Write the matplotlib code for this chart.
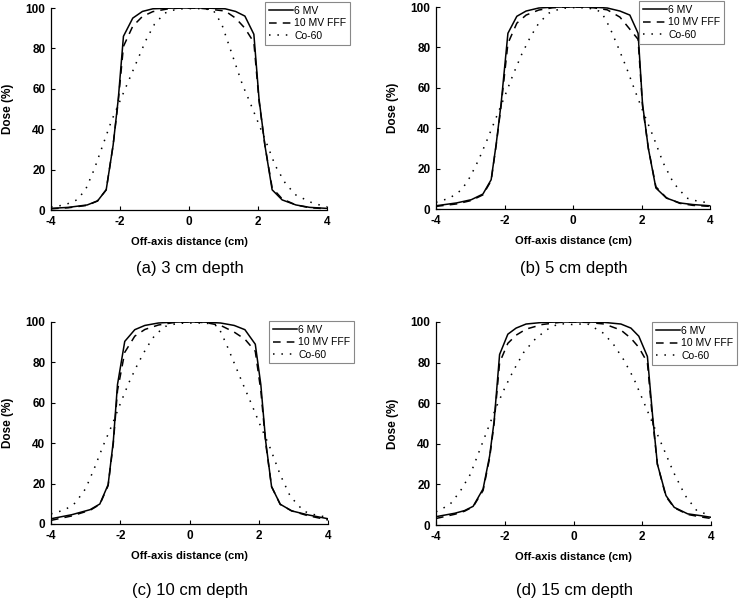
import numpy as np
import matplotlib
matplotlib.use('Agg')
import matplotlib.pyplot as plt

plt.rcParams['font.family'] = ['Liberation Sans', 'DejaVu Sans']
plt.rcParams['axes.unicode_minus'] = False

# (a) 3 cm depth
xa_ph = [-4, -3.5, -2.95, -2.65, -2.4, -2.2, -2.05, -1.9, -1.63, -1.35, -1.05, -0.6, -0.3, 0,
         0.3, 0.6, 1.05, 1.35, 1.62, 1.88, 2.03, 2.2, 2.41, 2.7, 3.1, 3.5, 4]
mv6_a = [0.8, 1.3, 2.5, 4.5, 10, 32, 55, 86, 95, 98.3, 99.6, 99.9, 100, 100,
         100, 99.9, 99.6, 98.3, 96, 87, 55, 32, 10, 5, 2.5, 1.3, 0.8]
fff_a = [0.6, 1.1, 2.3, 4.5, 10, 32, 54, 81, 91, 95.8, 98.2, 99.6, 99.9, 100,
         99.9, 99.4, 98.5, 95, 90, 83, 54, 32, 11, 5.5, 2.5, 1.1, 0.6]
xa_co = [-4, -3.6, -3.25, -3.0, -2.75, -2.5, -2.25, -2.0, -1.75, -1.5, -1.25, -1.0, -0.7, -0.35, 0,
         0.35, 0.7, 0.95, 1.15, 1.35, 1.55, 1.75, 2.0, 2.25, 2.5, 2.8, 3.1, 3.6, 4]
co_a = [1.5, 2.5, 5, 10, 20, 32, 44, 54, 64, 74, 84, 92, 97.5, 99.5, 99.7,
        99.7, 99, 92, 82, 72, 62, 54, 43.5, 33, 22, 13, 7.4, 3.3, 1.6]

# (b) 5 cm depth
xb_ph = [-4, -3.4, -2.97, -2.63, -2.39, -2.24, -2.1, -1.9, -1.64, -1.37, -1.0, -0.6, -0.3, 0,
         0.3, 0.6, 1.0, 1.37, 1.66, 1.9, 2.03, 2.2, 2.42, 2.73, 3.12, 3.5, 4]
mv6_b = [1.6, 3, 4.6, 7.4, 14.5, 32.5, 52, 87, 95.4, 98, 99.5, 99.9, 100, 100,
         100, 99.9, 99.5, 98, 96, 87, 52, 30, 10.4, 5.4, 3, 2.2, 1.6]
fff_b = [1.3, 2.5, 4.2, 7, 14, 32, 51, 82, 92, 96, 98.5, 99.6, 99.9, 100,
         99.9, 99.6, 98.6, 95, 89, 84, 51, 30, 11, 5.5, 2.8, 1.8, 1.3]
xb_co = [-4, -3.6, -3.25, -3.0, -2.75, -2.5, -2.25, -2.0, -1.75, -1.5, -1.25, -1.0, -0.7, -0.35, 0,
         0.35, 0.6, 0.83, 1.07, 1.32, 1.56, 1.8, 2.05, 2.34, 2.63, 2.93, 3.32, 3.65, 4]
co_b = [3.3, 5.4, 9.5, 16, 24.5, 34.5, 45, 55.5, 66.5, 76.5, 85, 92, 97, 99.3, 99.7,
        99.6, 99, 97.5, 90, 80, 70, 59, 48, 36, 23, 13, 5.4, 3.8, 3]

# (c) 10 cm depth
xc_ph = [-4, -3.4, -2.87, -2.59, -2.35, -2.2, -2.08, -1.87, -1.58, -1.29, -0.9, -0.5, -0.25, 0,
         0.25, 0.5, 0.9, 1.29, 1.6, 1.9, 2.06, 2.2, 2.37, 2.62, 2.95, 3.4, 4]
mv6_c = [2.6, 4.6, 7.1, 9.9, 19.5, 41, 69, 90.4, 96.2, 98.3, 99.5, 99.9, 100, 100,
         100, 99.9, 99.5, 98.3, 96.2, 89, 69, 41, 18.5, 9.8, 6.5, 4.6, 2.6]
fff_c = [1.8, 4.0, 6.8, 9.7, 19, 40, 66, 85, 93, 96.3, 98.5, 99.6, 99.9, 100,
         99.9, 99.6, 98.3, 95, 91.5, 85.5, 66, 40, 18.5, 9.7, 6.5, 4.2, 2]
xc_co = [-4, -3.6, -3.3, -3.0, -2.75, -2.5, -2.25, -2.0, -1.75, -1.5, -1.25, -1.0, -0.7, -0.35, 0,
         0.35, 0.6, 0.83, 1.07, 1.31, 1.55, 1.8, 2.04, 2.33, 2.62, 2.91, 3.3, 3.65, 4]
co_c = [5, 7, 10.4, 17.5, 27.5, 38.5, 48.5, 59.5, 70, 79, 87, 93.5, 97.8, 99.3, 99.5,
        99.5, 99.2, 97.8, 88.8, 78.9, 69, 59, 49, 37.6, 24.4, 13.7, 6.3, 4.4, 3.3]

# (d) 15 cm depth
xd_ph = [-4, -3.45, -3.17, -2.92, -2.63, -2.44, -2.31, -2.15, -1.91, -1.67, -1.38, -0.9, -0.4, 0,
         0.4, 0.9, 1.38, 1.67, 1.9, 2.15, 2.3, 2.44, 2.69, 2.93, 3.32, 3.7, 4]
mv6_d = [4.1, 5.8, 7.1, 9.2, 17.8, 34, 51, 84, 94, 97, 99, 99.8, 100, 100,
         100, 99.8, 99, 97, 93, 83, 54, 30, 14.5, 8.7, 5.5, 4.6, 3.8]
fff_d = [3.2, 5.3, 6.8, 9.0, 17, 33, 50, 80, 89.5, 93.5, 96.5, 98.8, 99.8, 100,
         99.8, 99, 96, 92, 87.5, 80, 52, 30, 14, 8.5, 5.2, 4, 3.2]
xd_co = [-4, -3.6, -3.3, -3.0, -2.75, -2.5, -2.25, -2.0, -1.75, -1.45, -1.15, -0.8, -0.43, -0.2, 0,
         0.2, 0.4, 0.87, 1.17, 1.46, 1.75, 2.04, 2.33, 2.62, 2.91, 3.25, 3.59, 4]
co_d = [6.5, 10, 16.5, 25, 36, 47, 58, 67.5, 76, 85, 91, 96, 99.2, 99, 98.7,
        99, 99.2, 94.5, 88.8, 81.4, 72.3, 60.7, 49, 37.6, 26, 14.5, 7, 4.6]

labels = ['6 MV', '10 MV FFF', 'Co-60']
captions = ['(a) 3 cm depth', '(b) 5 cm depth', '(c) 10 cm depth', '(d) 15 cm depth']

panels = [
    (xa_ph, mv6_a, fff_a, xa_co, co_a),
    (xb_ph, mv6_b, fff_b, xb_co, co_b),
    (xc_ph, mv6_c, fff_c, xc_co, co_c),
    (xd_ph, mv6_d, fff_d, xd_co, co_d),
]

W, H = 740, 607
# axes boxes in pixels: left, top, right, bottom
boxes = [(51, 8, 327, 210), (436, 7, 710, 209), (51, 322, 328, 524), (436, 322, 711, 525)]
# legend upper-right corners in pixels
leg_pos = [(350, 2), (724, 1), (354, 321), (737, 322)]
cap_pos = [(190, 268), (574, 268), (190, 590), (574, 590)]

fig = plt.figure(figsize=(W / 100, H / 100), dpi=100)

for i, (xp, m6, ff, xco, co) in enumerate(panels):
    l, t, r, b = boxes[i]
    ax = fig.add_axes([l / W, 1 - b / H, (r - l) / W, (b - t) / H])
    ax.plot(xp, m6, color='black', lw=1.1, ls='-', label=labels[0])
    ax.plot(xp, ff, color='black', lw=1.1, ls=(0, (5, 4)), label=labels[1])
    ax.plot(xco, co, color='black', lw=1.1, ls=(0, (1, 4.5)), label=labels[2])
    ax.set_xlim(-4, 4)
    ax.set_ylim(0, 100)
    ax.set_xticks([-4, -2, 0, 2, 4])
    ax.set_yticks([0, 20, 40, 60, 80, 100])
    ax.spines['top'].set_visible(False)
    ax.spines['right'].set_visible(False)
    for s in ['left', 'bottom']:
        ax.spines[s].set_linewidth(0.9)
    ax.tick_params(direction='in', length=3, width=0.8, labelsize=8.5, pad=4)
    for lab in ax.get_xticklabels() + ax.get_yticklabels():
        lab.set_fontweight('bold')
    ax.set_xlabel('Off-axis distance (cm)', fontsize=8, fontweight='bold', labelpad=7)
    ax.set_ylabel('Dose (%)', fontsize=8.5, fontweight='bold', labelpad=8)
    lx, ly = leg_pos[i]
    leg = ax.legend(loc='upper right', bbox_to_anchor=(lx / W, 1 - ly / H),
                    bbox_transform=fig.transFigure, fontsize=7.5, frameon=True,
                    fancybox=False, framealpha=1, edgecolor='#888888',
                    handlelength=2.3, handletextpad=0.15, labelspacing=0.25,
                    borderpad=0.35, borderaxespad=0)
    leg.get_frame().set_linewidth(0.8)
    cx, cy = cap_pos[i]
    fig.text(cx / W, 1 - cy / H, captions[i], ha='center', va='center', fontsize=12)

fig.savefig('out.png', dpi=100)
